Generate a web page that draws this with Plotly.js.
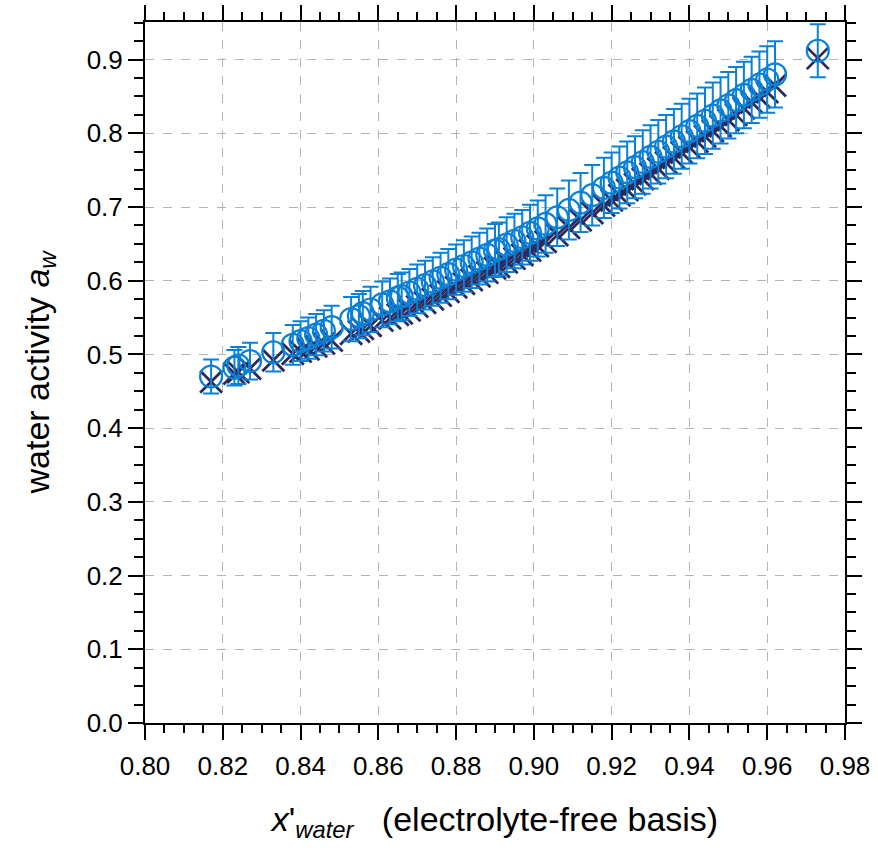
<!DOCTYPE html>
<html>
<head>
<meta charset="utf-8">
<script src="https://cdn.plot.ly/plotly-3.0.1.min.js"></script>
<style>html,body{margin:0;padding:0;background:#fff;}#chart{width:878px;height:848px;}</style>
</head>
<body>
<div id="chart"></div>
<script>
// x'water (electrolyte-free basis)
const xWater = [0.817,0.823,0.824,0.827,0.833,0.838,0.840,0.842,0.844,0.846,0.848,0.853,0.855,0.856,0.858,0.861,0.863,0.865,0.866,0.868,0.870,0.872,0.874,0.876,0.878,0.880,0.882,0.884,0.886,0.888,0.890,0.891,0.893,0.895,0.897,0.899,0.901,0.903,0.906,0.909,0.912,0.915,0.918,0.920,0.922,0.924,0.926,0.928,0.930,0.932,0.934,0.936,0.938,0.940,0.942,0.944,0.946,0.948,0.950,0.952,0.954,0.956,0.958,0.960,0.962,0.973];
// measured water activity
const awMeasured = [0.470,0.482,0.485,0.491,0.503,0.513,0.518,0.522,0.527,0.532,0.537,0.548,0.552,0.556,0.561,0.568,0.572,0.577,0.579,0.584,0.589,0.594,0.599,0.604,0.609,0.615,0.620,0.625,0.630,0.635,0.641,0.643,0.649,0.654,0.659,0.665,0.671,0.677,0.686,0.696,0.706,0.716,0.726,0.733,0.740,0.747,0.754,0.761,0.768,0.775,0.782,0.789,0.796,0.803,0.810,0.817,0.824,0.831,0.838,0.845,0.852,0.859,0.866,0.873,0.880,0.912];
// measurement uncertainty
const awError = [0.023,0.024,0.025,0.025,0.026,0.027,0.027,0.028,0.028,0.028,0.029,0.030,0.030,0.030,0.031,0.031,0.031,0.032,0.032,0.032,0.033,0.033,0.033,0.034,0.034,0.034,0.035,0.035,0.035,0.036,0.036,0.036,0.037,0.037,0.037,0.038,0.038,0.039,0.039,0.040,0.040,0.041,0.041,0.041,0.042,0.042,0.042,0.043,0.043,0.043,0.043,0.044,0.044,0.044,0.044,0.045,0.045,0.045,0.045,0.045,0.045,0.045,0.045,0.045,0.045,0.036];
// model prediction
const awModel = [0.463,0.474,0.476,0.481,0.492,0.501,0.504,0.507,0.511,0.515,0.519,0.528,0.531,0.535,0.539,0.546,0.549,0.554,0.556,0.560,0.565,0.570,0.575,0.580,0.585,0.591,0.596,0.601,0.606,0.611,0.617,0.619,0.625,0.630,0.635,0.641,0.647,0.653,0.662,0.672,0.682,0.692,0.702,0.709,0.716,0.723,0.731,0.738,0.745,0.752,0.760,0.767,0.774,0.781,0.789,0.796,0.803,0.810,0.818,0.825,0.834,0.842,0.849,0.856,0.865,0.902];

const xTicks = [0.80,0.82,0.84,0.86,0.88,0.90,0.92,0.94,0.96,0.98];
const yTicks = [0.0,0.1,0.2,0.3,0.4,0.5,0.6,0.7,0.8,0.9];

const blue = '#0a80d6';
const navy = '#2c2a5c';
const font = 'Liberation Sans, Arial, sans-serif';

const traces = [
  {
    x: xWater, y: awModel, type: 'scatter', mode: 'markers', name: 'model',
    marker: {symbol: 'x-thin-open', size: 22, color: navy, line: {color: navy, width: 2.8}},
    showlegend: false, hoverinfo: 'x+y'
  },
  {
    x: xWater, y: awMeasured, type: 'scatter', mode: 'markers', name: 'measured',
    marker: {symbol: 'circle-open', size: 22, color: blue, line: {color: blue, width: 2.2}},
    error_y: {type: 'data', array: awError, visible: true, color: blue, thickness: 2, width: 8},
    showlegend: false, hoverinfo: 'x+y'
  }
];

const axisCommon = {
  showline: true, linecolor: '#000', linewidth: 2, mirror: 'ticks',
  ticks: 'outside', tickcolor: '#000', tickwidth: 2, ticklen: 15,
  showgrid: true, gridcolor: '#b4b4b4', griddash: 'dash', gridwidth: 1,
  zeroline: false,
  tickfont: {family: font, size: 26, color: '#000'}
};

const layout = {
  width: 878, height: 848,
  margin: {l: 145, r: 33, t: 22, b: 125},
  paper_bgcolor: '#fff', plot_bgcolor: '#fff',
  showlegend: false,
  xaxis: Object.assign({}, axisCommon, {
    range: [0.80, 0.98], tickvals: xTicks, ticktext: xTicks.map(v => v.toFixed(2)),
    ticklabelstandoff: 4,
    minor: {dtick: 0.005, tick0: 0.80, ticks: 'outside', ticklen: 8, tickwidth: 2, tickcolor: '#000', showgrid: false},
    title: {text: "<i>x</i>'<sub><i>water</i></sub>&nbsp;&nbsp;&nbsp;(electrolyte-free basis)", font: {family: font, size: 34, color: '#000'}, standoff: 27}
  }),
  yaxis: Object.assign({}, axisCommon, {
    range: [0, 0.951], tickvals: yTicks, ticktext: yTicks.map(v => v.toFixed(1)),
    minor: {dtick: 0.025, tick0: 0, ticks: 'outside', ticklen: 9, tickwidth: 2, tickcolor: '#000', showgrid: false},
    title: {text: "water activity <i>a</i><sub><i>w</i></sub>", font: {family: font, size: 34, color: '#000'}, standoff: 27}
  })
};

Plotly.newPlot('chart', traces, layout, {displayModeBar: false, staticPlot: true});
</script>
</body>
</html>
